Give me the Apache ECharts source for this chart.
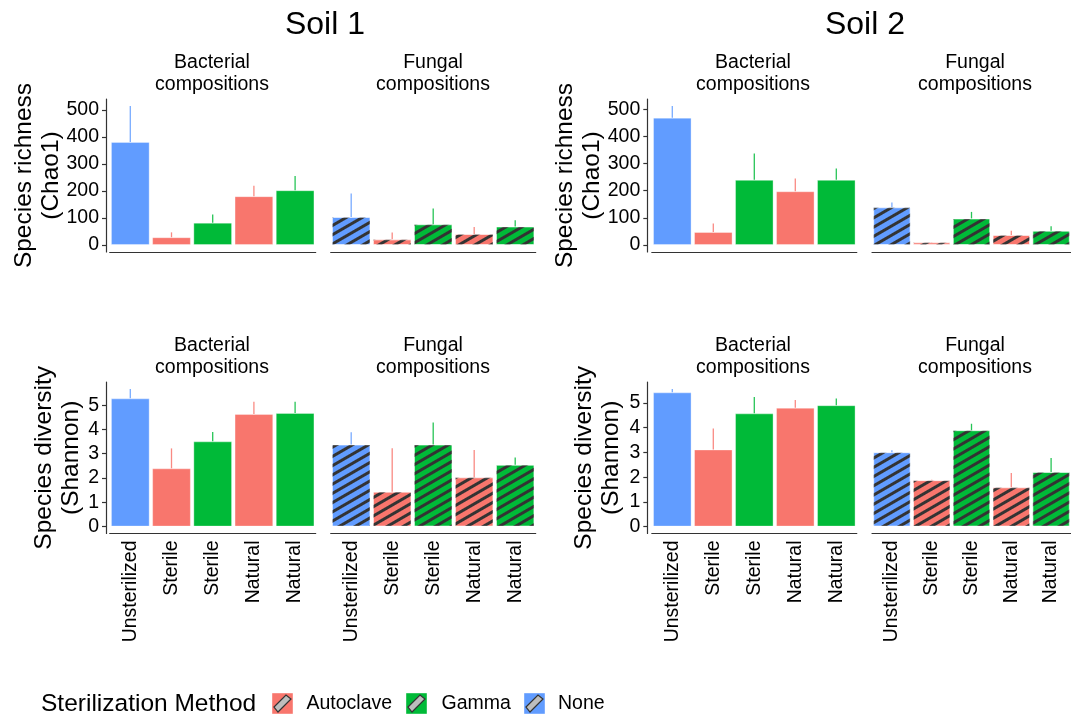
<!DOCTYPE html>
<html><head><meta charset="utf-8">
<script src="https://cdn.jsdelivr.net/npm/echarts@6/dist/echarts.min.js"></script>
<style>html,body{margin:0;padding:0;background:#fff}#c{width:1071px;height:715px}</style>
</head><body><div id="c"></div>
<script>
// ---------- data ----------
const categories = ['Unsterilized', 'Sterile', 'Sterile', 'Natural', 'Natural'];
const methods = ['None', 'Autoclave', 'Gamma', 'Autoclave', 'Gamma'];
const legendMethods = ['Autoclave', 'Gamma', 'None'];
const richnessTicks = [0, 100, 200, 300, 400, 500];
const shannonTicks = [0, 1, 2, 3, 4, 5];

// Species richness (Chao1): means and upper error-bar ends
const soil1RichBact = [382, 29, 83, 181, 203];
const soil1RichBactErr = [515, 47, 113, 220, 256];
const soil1RichFung = [104, 21, 77, 41, 69];
const soil1RichFungErr = [191, 46, 135, 67, 92];
const soil2RichBact = [469, 48, 240, 198, 240];
const soil2RichBactErr = [512, 79, 337, 245, 282];
const soil2RichFung = [139, 10, 98, 37, 53];
const soil2RichFungErr = [157, 11, 122, 53, 69];

// Species diversity (Shannon)
const soil1ShanBact = [5.28, 2.40, 3.51, 4.64, 4.68];
const soil1ShanBactErr = [5.67, 3.22, 3.89, 5.14, 5.14];
const soil1ShanFung = [3.38, 1.44, 3.38, 2.03, 2.55];
const soil1ShanFungErr = [3.88, 3.23, 4.29, 3.15, 2.85];
const soil2ShanBact = [5.43, 3.12, 4.58, 4.81, 4.91];
const soil2ShanBactErr = [5.57, 3.97, 5.24, 5.12, 5.18];
const soil2ShanFung = [3.01, 1.88, 3.90, 1.59, 2.21];
const soil2ShanFungErr = [3.09, 1.90, 4.16, 2.17, 2.77];

// ---------- styles ----------
const colorOf = { Autoclave: '#F8766D', Gamma: '#00BA38', None: '#619CFF' };
const FONT = "'Liberation Sans', Arial, Helvetica, sans-serif";
const hatch = { symbol: 'rect', symbolSize: 1, dashArrayX: [1, 0], dashArrayY: [3, 5], rotation: -Math.PI / 6, color: '#333333' };

const colLeft = [109.7, 330.7, 651.8, 872];
const colWidth = [206, 205, 205, 205];
const yOffset = [3.7, 0, 4.5, 0];
const rowTop = [99, 382];
const rowHeight = [153, 151.5];

const panels = [
  { row: 0, col: 0, v: soil1RichBact, e: soil1RichBactErr, ref: [soil1RichBactErr, soil1RichFungErr], ticks: richnessTicks, hatch: false },
  { row: 0, col: 1, v: soil1RichFung, e: soil1RichFungErr, ref: [soil1RichBactErr, soil1RichFungErr], ticks: richnessTicks, hatch: true },
  { row: 0, col: 2, v: soil2RichBact, e: soil2RichBactErr, ref: [soil2RichBactErr, soil2RichFungErr], ticks: richnessTicks, hatch: false },
  { row: 0, col: 3, v: soil2RichFung, e: soil2RichFungErr, ref: [soil2RichBactErr, soil2RichFungErr], ticks: richnessTicks, hatch: true },
  { row: 1, col: 0, v: soil1ShanBact, e: soil1ShanBactErr, ref: [soil1ShanBactErr, soil1ShanFungErr], ticks: shannonTicks, hatch: false },
  { row: 1, col: 1, v: soil1ShanFung, e: soil1ShanFungErr, ref: [soil1ShanBactErr, soil1ShanFungErr], ticks: shannonTicks, hatch: true },
  { row: 1, col: 2, v: soil2ShanBact, e: soil2ShanBactErr, ref: [soil2ShanBactErr, soil2ShanFungErr], ticks: shannonTicks, hatch: false },
  { row: 1, col: 3, v: soil2ShanFung, e: soil2ShanFungErr, ref: [soil2ShanBactErr, soil2ShanFungErr], ticks: shannonTicks, hatch: true }
];

const catIds = categories.map((c, i) => i + ':' + c);

const grid = [], xAxis = [], yAxis = [], series = [];
panels.forEach((p, i) => {
  const m = Math.max(...p.ref[0], ...p.ref[1]);
  const isBact = p.col % 2 === 0;
  grid.push({ left: colLeft[p.col], top: rowTop[p.row], width: colWidth[p.col], height: rowHeight[p.row] });
  xAxis.push({
    type: 'category', gridIndex: i, data: catIds,
    axisLine: { show: true, onZero: false, lineStyle: { color: '#333', width: 1.2 } },
    axisTick: { show: false },
    axisLabel: {
      show: p.row === 1, rotate: 90, margin: 7, interval: 0,
      fontFamily: FONT, fontSize: 19.5, color: '#000',
      formatter: (val, idx) => categories[idx]
    },
    splitLine: { show: false }
  });
  yAxis.push({
    type: 'value', gridIndex: i, min: -0.05 * m, max: 1.05 * m,
    offset: yOffset[p.col],
    axisLine: { show: isBact, lineStyle: { color: '#333', width: 1.2 } },
    axisTick: { show: isBact, length: 4, customValues: p.ticks, lineStyle: { color: '#333', width: 1.2 } },
    axisLabel: { show: isBact, customValues: p.ticks, margin: 7, fontFamily: FONT, fontSize: 19.5, color: '#000' },
    splitLine: { show: false }
  });
  series.push({
    type: 'bar', xAxisIndex: i, yAxisIndex: i, barCategoryGap: '6%',
    silent: true, animation: false,
    data: p.v.map((val, k) => ({
      value: val,
      itemStyle: Object.assign(
        { color: colorOf[methods[k]], borderColor: 'rgba(255,255,255,0.35)', borderWidth: 1 },
        p.hatch ? { decal: hatch } : {}
      )
    }))
  });
  series.push({
    type: 'custom', xAxisIndex: i, yAxisIndex: i, silent: true, animation: false, z: 3,
    encode: { x: 0, y: [1, 2] },
    data: p.v.map((val, k) => [k, val, p.e[k]]),
    renderItem: (params, api) => {
      const k = api.value(0);
      const a = api.coord([k, api.value(1)]);
      const b = api.coord([k, api.value(2)]);
      return { type: 'line', shape: { x1: a[0], y1: a[1], x2: b[0], y2: b[1] },
        style: { stroke: colorOf[methods[params.dataIndex]], lineWidth: 1.3, opacity: 0.85 } };
    }
  });
});

// ---------- text & legend ----------
const graphic = [];
function txt(text, x, y, size, opts) {
  graphic.push(Object.assign({
    type: 'text', x: x, y: y, silent: true,
    style: { text: text, x: 0, y: 0, align: 'center', verticalAlign: 'middle', fontFamily: FONT, fontSize: size, fill: '#000', lineHeight: Math.round(size * 1.12) }
  }, opts || {}));
}
txt('Soil 1', 325, 25, 32);
txt('Soil 2', 865, 25, 32);
const stripCenters = [212, 433, 753, 975];
const stripNames = ['Bacterial\ncompositions', 'Fungal\ncompositions', 'Bacterial\ncompositions', 'Fungal\ncompositions'];
[74, 357].forEach(y => stripCenters.forEach((x, i) => txt(stripNames[i], x, y, 19.5)));
txt('Species richness\n(Chao1)', 37.5, 175.5, 24.5, { rotation: Math.PI / 2 });
txt('Species richness\n(Chao1)', 579, 175.5, 24.5, { rotation: Math.PI / 2 });
txt('Species diversity\n(Shannon)', 58.2, 457.8, 24.5, { rotation: Math.PI / 2 });
txt('Species diversity\n(Shannon)', 598.2, 457.8, 24.5, { rotation: Math.PI / 2 });

// legend
graphic.push({ type: 'text', x: 41, y: 704, silent: true,
  style: { text: 'Sterilization Method', align: 'left', verticalAlign: 'middle', fontFamily: FONT, fontSize: 24.5, fill: '#000' } });
const keyX = [272, 406, 524];
const labX = [306.5, 441.5, 558];
legendMethods.forEach((mth, i) => {
  const x = keyX[i], y = 693, s = 21;
  graphic.push({ type: 'rect', silent: true, shape: { x: x, y: y, width: s, height: s }, style: { fill: colorOf[mth], stroke: 'rgba(255,255,255,0.4)', lineWidth: 1 } });
  graphic.push({ type: 'polygon', silent: true,
    shape: { points: [[x + 2, y + s - 7], [x + s - 7, y + 2], [x + s - 2, y + 6], [x + 6, y + s - 2]] },
    style: { fill: '#bdbdbd', stroke: '#333', lineWidth: 1.2 } });
  graphic.push({ type: 'text', x: labX[i], y: 704, silent: true,
    style: { text: mth, align: 'left', verticalAlign: 'middle', fontFamily: FONT, fontSize: 19.5, fill: '#000' } });
});

const chart = echarts.init(document.getElementById('c'), null, { renderer: 'canvas' });
chart.setOption({ backgroundColor: '#fff', animation: false, grid, xAxis, yAxis, series, graphic });
</script>
</body></html>
